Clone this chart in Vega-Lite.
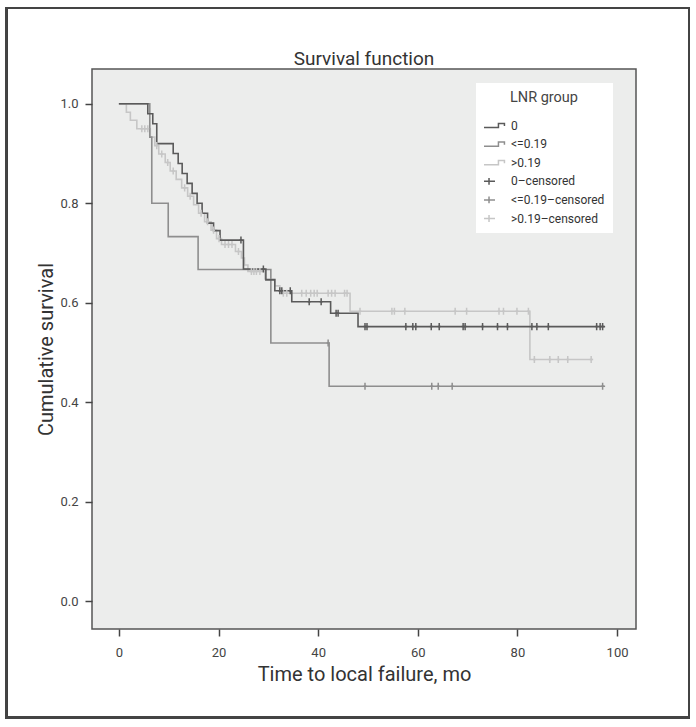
{
  "$schema": "https://vega.github.io/schema/vega-lite/v6.json",
  "width": 544,
  "height": 560,
  "autosize": "none",
  "padding": {"left": 92, "top": 69, "right": 60, "bottom": 98},
  "background": "white",
  "title": {"text": "Survival function", "fontSize": 19, "font": "Roboto", "fontWeight": "normal", "color": "#333333", "offset": -62},
  "config": {
    "font": "Roboto",
    "view": {"fill": "#ecedec", "stroke": "#555555", "strokeWidth": 1.5},
    "axis": {"grid": false, "domain": false, "tickColor": "#444444", "tickSize": 7, "tickWidth": 1.5, "labelFontSize": 13, "labelColor": "#444444", "titleFontSize": 20, "titleColor": "#333333", "titleFontWeight": "normal", "labelFont": "Roboto", "titleFont": "Roboto"},
    "legend": {"titleFontWeight": "normal", "titleFont": "Roboto", "labelFont": "Roboto"}
  },
  "datasets": {
    "km": [
      {"key": ">0.19", "kind": "step", "t": 0, "s": 1.0},
      {"key": ">0.19", "kind": "step", "t": 1.5, "s": 0.983},
      {"key": ">0.19", "kind": "step", "t": 2.3, "s": 0.967},
      {"key": ">0.19", "kind": "step", "t": 3.6, "s": 0.95},
      {"key": ">0.19", "kind": "step", "t": 6.3, "s": 0.933},
      {"key": ">0.19", "kind": "step", "t": 7.2, "s": 0.916},
      {"key": ">0.19", "kind": "step", "t": 8.0, "s": 0.899},
      {"key": ">0.19", "kind": "step", "t": 9.3, "s": 0.882},
      {"key": ">0.19", "kind": "step", "t": 10.3, "s": 0.865},
      {"key": ">0.19", "kind": "step", "t": 11.5, "s": 0.848},
      {"key": ">0.19", "kind": "step", "t": 12.6, "s": 0.831},
      {"key": ">0.19", "kind": "step", "t": 13.8, "s": 0.814},
      {"key": ">0.19", "kind": "step", "t": 15.0, "s": 0.797},
      {"key": ">0.19", "kind": "step", "t": 16.0, "s": 0.78},
      {"key": ">0.19", "kind": "step", "t": 17.2, "s": 0.763},
      {"key": ">0.19", "kind": "step", "t": 18.5, "s": 0.746},
      {"key": ">0.19", "kind": "step", "t": 19.6, "s": 0.729},
      {"key": ">0.19", "kind": "step", "t": 20.6, "s": 0.717},
      {"key": ">0.19", "kind": "step", "t": 23.4, "s": 0.703},
      {"key": ">0.19", "kind": "step", "t": 24.6, "s": 0.69},
      {"key": ">0.19", "kind": "step", "t": 25.2, "s": 0.676},
      {"key": ">0.19", "kind": "step", "t": 25.9, "s": 0.663},
      {"key": ">0.19", "kind": "step", "t": 29.3, "s": 0.648},
      {"key": ">0.19", "kind": "step", "t": 31.3, "s": 0.634},
      {"key": ">0.19", "kind": "step", "t": 32.3, "s": 0.619},
      {"key": ">0.19", "kind": "step", "t": 46.4, "s": 0.583},
      {"key": ">0.19", "kind": "step", "t": 82.5, "s": 0.486},
      {"key": ">0.19", "kind": "step", "t": 95.2, "s": 0.486},
      {"key": "<=0.19", "kind": "step", "t": 0, "s": 1.0},
      {"key": "<=0.19", "kind": "step", "t": 6.2, "s": 0.933},
      {"key": "<=0.19", "kind": "step", "t": 6.6, "s": 0.8},
      {"key": "<=0.19", "kind": "step", "t": 9.9, "s": 0.733},
      {"key": "<=0.19", "kind": "step", "t": 15.9, "s": 0.667},
      {"key": "<=0.19", "kind": "step", "t": 30.5, "s": 0.519},
      {"key": "<=0.19", "kind": "step", "t": 42.2, "s": 0.432},
      {"key": "<=0.19", "kind": "step", "t": 97.6, "s": 0.432},
      {"key": "0", "kind": "step", "t": 0, "s": 1.0},
      {"key": "0", "kind": "step", "t": 5.8, "s": 0.98},
      {"key": "0", "kind": "step", "t": 6.8, "s": 0.96},
      {"key": "0", "kind": "step", "t": 7.6, "s": 0.92},
      {"key": "0", "kind": "step", "t": 10.9, "s": 0.9},
      {"key": "0", "kind": "step", "t": 11.9, "s": 0.88},
      {"key": "0", "kind": "step", "t": 12.7, "s": 0.86},
      {"key": "0", "kind": "step", "t": 13.7, "s": 0.84},
      {"key": "0", "kind": "step", "t": 14.7, "s": 0.82},
      {"key": "0", "kind": "step", "t": 15.7, "s": 0.8},
      {"key": "0", "kind": "step", "t": 16.7, "s": 0.78},
      {"key": "0", "kind": "step", "t": 17.8, "s": 0.76},
      {"key": "0", "kind": "step", "t": 19.0, "s": 0.745},
      {"key": "0", "kind": "step", "t": 20.3, "s": 0.726},
      {"key": "0", "kind": "step", "t": 25.0, "s": 0.668},
      {"key": "0", "kind": "step", "t": 29.5, "s": 0.646},
      {"key": "0", "kind": "step", "t": 31.3, "s": 0.624},
      {"key": "0", "kind": "step", "t": 34.7, "s": 0.602},
      {"key": "0", "kind": "step", "t": 42.5, "s": 0.579},
      {"key": "0", "kind": "step", "t": 48.0, "s": 0.552},
      {"key": "0", "kind": "step", "t": 97.6, "s": 0.552},
      {"key": ">0.19–censored", "kind": "censor", "t": 4.6, "s": 0.95},
      {"key": ">0.19–censored", "kind": "censor", "t": 5.2, "s": 0.95},
      {"key": ">0.19–censored", "kind": "censor", "t": 5.8, "s": 0.95},
      {"key": ">0.19–censored", "kind": "censor", "t": 7.6, "s": 0.916},
      {"key": ">0.19–censored", "kind": "censor", "t": 8.6, "s": 0.899},
      {"key": ">0.19–censored", "kind": "censor", "t": 9.8, "s": 0.882},
      {"key": ">0.19–censored", "kind": "censor", "t": 10.9, "s": 0.865},
      {"key": ">0.19–censored", "kind": "censor", "t": 13.2, "s": 0.831},
      {"key": ">0.19–censored", "kind": "censor", "t": 14.3, "s": 0.814},
      {"key": ">0.19–censored", "kind": "censor", "t": 16.5, "s": 0.78},
      {"key": ">0.19–censored", "kind": "censor", "t": 17.8, "s": 0.763},
      {"key": ">0.19–censored", "kind": "censor", "t": 19.0, "s": 0.746},
      {"key": ">0.19–censored", "kind": "censor", "t": 20.1, "s": 0.729},
      {"key": ">0.19–censored", "kind": "censor", "t": 21.3, "s": 0.717},
      {"key": ">0.19–censored", "kind": "censor", "t": 22.0, "s": 0.717},
      {"key": ">0.19–censored", "kind": "censor", "t": 22.7, "s": 0.717},
      {"key": ">0.19–censored", "kind": "censor", "t": 24.0, "s": 0.703},
      {"key": ">0.19–censored", "kind": "censor", "t": 26.6, "s": 0.663},
      {"key": ">0.19–censored", "kind": "censor", "t": 27.1, "s": 0.663},
      {"key": ">0.19–censored", "kind": "censor", "t": 27.6, "s": 0.663},
      {"key": ">0.19–censored", "kind": "censor", "t": 28.3, "s": 0.663},
      {"key": ">0.19–censored", "kind": "censor", "t": 33.0, "s": 0.619},
      {"key": ">0.19–censored", "kind": "censor", "t": 33.7, "s": 0.619},
      {"key": ">0.19–censored", "kind": "censor", "t": 36.7, "s": 0.619},
      {"key": ">0.19–censored", "kind": "censor", "t": 37.6, "s": 0.619},
      {"key": ">0.19–censored", "kind": "censor", "t": 38.5, "s": 0.619},
      {"key": ">0.19–censored", "kind": "censor", "t": 39.2, "s": 0.619},
      {"key": ">0.19–censored", "kind": "censor", "t": 39.8, "s": 0.619},
      {"key": ">0.19–censored", "kind": "censor", "t": 42.0, "s": 0.619},
      {"key": ">0.19–censored", "kind": "censor", "t": 42.7, "s": 0.619},
      {"key": ">0.19–censored", "kind": "censor", "t": 43.4, "s": 0.619},
      {"key": ">0.19–censored", "kind": "censor", "t": 45.3, "s": 0.619},
      {"key": ">0.19–censored", "kind": "censor", "t": 45.8, "s": 0.619},
      {"key": ">0.19–censored", "kind": "censor", "t": 48.4, "s": 0.583},
      {"key": ">0.19–censored", "kind": "censor", "t": 54.8, "s": 0.583},
      {"key": ">0.19–censored", "kind": "censor", "t": 55.3, "s": 0.583},
      {"key": ">0.19–censored", "kind": "censor", "t": 57.4, "s": 0.583},
      {"key": ">0.19–censored", "kind": "censor", "t": 67.5, "s": 0.583},
      {"key": ">0.19–censored", "kind": "censor", "t": 69.8, "s": 0.583},
      {"key": ">0.19–censored", "kind": "censor", "t": 76.3, "s": 0.583},
      {"key": ">0.19–censored", "kind": "censor", "t": 77.2, "s": 0.583},
      {"key": ">0.19–censored", "kind": "censor", "t": 79.9, "s": 0.583},
      {"key": ">0.19–censored", "kind": "censor", "t": 82.2, "s": 0.583},
      {"key": ">0.19–censored", "kind": "censor", "t": 83.4, "s": 0.486},
      {"key": ">0.19–censored", "kind": "censor", "t": 86.5, "s": 0.486},
      {"key": ">0.19–censored", "kind": "censor", "t": 88.2, "s": 0.486},
      {"key": ">0.19–censored", "kind": "censor", "t": 90.1, "s": 0.486},
      {"key": ">0.19–censored", "kind": "censor", "t": 94.8, "s": 0.486},
      {"key": "<=0.19–censored", "kind": "censor", "t": 42.0, "s": 0.519},
      {"key": "<=0.19–censored", "kind": "censor", "t": 49.4, "s": 0.432},
      {"key": "<=0.19–censored", "kind": "censor", "t": 62.8, "s": 0.432},
      {"key": "<=0.19–censored", "kind": "censor", "t": 64.1, "s": 0.432},
      {"key": "<=0.19–censored", "kind": "censor", "t": 66.9, "s": 0.432},
      {"key": "<=0.19–censored", "kind": "censor", "t": 97.1, "s": 0.432},
      {"key": "0–censored", "kind": "censor", "t": 24.5, "s": 0.726},
      {"key": "0–censored", "kind": "censor", "t": 29.0, "s": 0.668},
      {"key": "0–censored", "kind": "censor", "t": 32.3, "s": 0.624},
      {"key": "0–censored", "kind": "censor", "t": 32.7, "s": 0.624},
      {"key": "0–censored", "kind": "censor", "t": 34.4, "s": 0.624},
      {"key": "0–censored", "kind": "censor", "t": 38.2, "s": 0.602},
      {"key": "0–censored", "kind": "censor", "t": 40.6, "s": 0.602},
      {"key": "0–censored", "kind": "censor", "t": 43.6, "s": 0.579},
      {"key": "0–censored", "kind": "censor", "t": 44.0, "s": 0.579},
      {"key": "0–censored", "kind": "censor", "t": 49.4, "s": 0.552},
      {"key": "0–censored", "kind": "censor", "t": 49.8, "s": 0.552},
      {"key": "0–censored", "kind": "censor", "t": 57.6, "s": 0.552},
      {"key": "0–censored", "kind": "censor", "t": 59.0, "s": 0.552},
      {"key": "0–censored", "kind": "censor", "t": 59.6, "s": 0.552},
      {"key": "0–censored", "kind": "censor", "t": 62.7, "s": 0.552},
      {"key": "0–censored", "kind": "censor", "t": 64.3, "s": 0.552},
      {"key": "0–censored", "kind": "censor", "t": 69.1, "s": 0.552},
      {"key": "0–censored", "kind": "censor", "t": 69.5, "s": 0.552},
      {"key": "0–censored", "kind": "censor", "t": 73.0, "s": 0.552},
      {"key": "0–censored", "kind": "censor", "t": 76.0, "s": 0.552},
      {"key": "0–censored", "kind": "censor", "t": 78.0, "s": 0.552},
      {"key": "0–censored", "kind": "censor", "t": 82.9, "s": 0.552},
      {"key": "0–censored", "kind": "censor", "t": 83.9, "s": 0.552},
      {"key": "0–censored", "kind": "censor", "t": 86.2, "s": 0.552},
      {"key": "0–censored", "kind": "censor", "t": 95.9, "s": 0.552},
      {"key": "0–censored", "kind": "censor", "t": 96.6, "s": 0.552},
      {"key": "0–censored", "kind": "censor", "t": 97.1, "s": 0.552}
    ]
  },
  "data": {"name": "km"},
  "layer": [
    {
      "mark": {"type": "rect", "fill": null, "stroke": "#444444", "strokeWidth": 1.5, "clip": false},
      "encoding": {
        "x": {"datum": -22.6, "type": "quantitative"},
        "x2": {"datum": 114.4},
        "y": {"datum": 1.193, "type": "quantitative"},
        "y2": {"datum": -0.234}
      }
    },
    {
      "transform": [{"filter": "datum.kind === 'step'"}],
      "mark": {"type": "line", "interpolate": "step-after", "strokeWidth": 1.6},
      "encoding": {
        "x": {"field": "t", "type": "quantitative", "title": "Time to local failure, mo",
          "scale": {"domain": [-5.4, 103.8], "nice": false, "zero": false},
          "axis": {"values": [0, 20, 40, 60, 80, 100], "labelPadding": 10, "titlePadding": 5}},
        "y": {"field": "s", "type": "quantitative", "title": "Cumulative survival",
          "scale": {"domain": [-0.056, 1.07], "nice": false, "zero": false},
          "axis": {"values": [0, 0.2, 0.4, 0.6, 0.8, 1.0], "format": ".1f", "labelPadding": 7, "titlePadding": 3}},
        "color": {"field": "key", "type": "nominal",
          "scale": {"domain": ["0", "<=0.19", ">0.19", "0–censored", "<=0.19–censored", ">0.19–censored"],
            "range": ["#5a5a5a", "#8e8e8e", "#c6c6c6", "#5a5a5a", "#8e8e8e", "#c6c6c6"]},
          "legend": {"title": "LNR group"}}
      }
    },
    {
      "transform": [{"filter": "datum.kind === 'censor'"}],
      "mark": {"type": "point", "shape": "M0,-1V1M-0.4,0H0.4", "filled": false, "strokeWidth": 1.5, "size": 50, "opacity": 1},
      "encoding": {
        "x": {"field": "t", "type": "quantitative"},
        "y": {"field": "s", "type": "quantitative"},
        "color": {"field": "key", "type": "nominal", "legend": {"title": "LNR group"}}
      }
    },
    {
      "mark": {"type": "point", "filled": false, "strokeWidth": 1.5},
      "encoding": {
        "x": {"field": "t", "type": "quantitative"},
        "y": {"field": "s", "type": "quantitative"},
        "opacity": {"value": 0},
        "color": {"field": "key", "type": "nominal",
          "legend": {"title": "LNR group", "orient": "none", "legendX": 384, "legendY": 14,
            "fillColor": "white", "padding": 8, "titleFontSize": 14.5, "titleFontWeight": "normal", "titleColor": "#444444",
            "titleAnchor": "middle", "titlePadding": 14, "labelFontSize": 12, "labelColor": "#333333",
            "symbolSize": 144, "labelOffset": 13, "rowPadding": 6.6, "clipHeight": 12, "symbolStrokeWidth": 1.5}},
        "shape": {"field": "key", "type": "nominal",
          "scale": {"domain": ["0", "<=0.19", ">0.19", "0–censored", "<=0.19–censored", ">0.19–censored"],
            "range": ["M-1.33,0.35H1.24V-0.35H2.24V0.1", "M-1.33,0.35H1.24V-0.35H2.24V0.1", "M-1.33,0.35H1.24V-0.35H2.24V0.1", "M-1.33,0H0.67M-0.33,-0.57V0.57", "M-1.33,0H0.67M-0.33,-0.57V0.57", "M-1.33,0H0.67M-0.33,-0.57V0.57"]},
          "legend": {"title": "LNR group", "orient": "none", "legendX": 384, "legendY": 14}}
      }
    }
  ]
}
